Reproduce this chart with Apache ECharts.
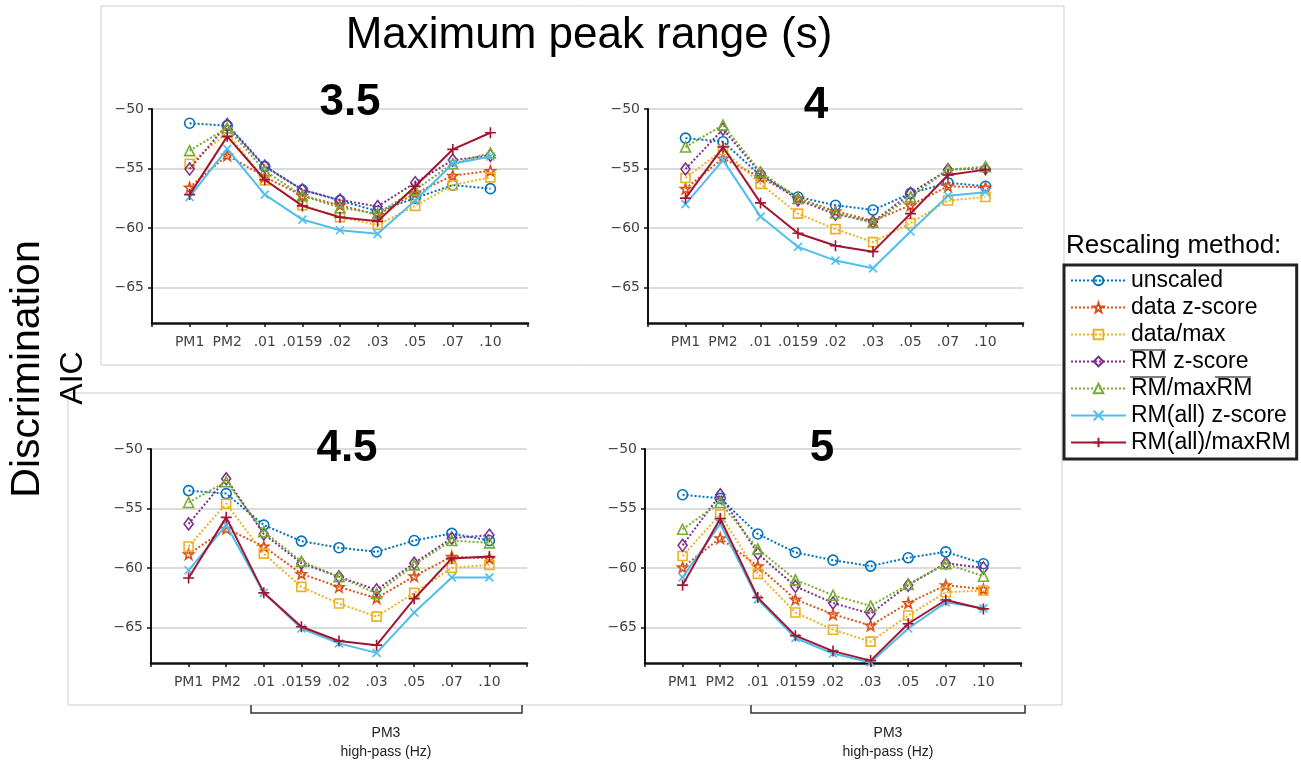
<!DOCTYPE html>
<html>
<head>
<meta charset="utf-8">
<script src="https://cdn.jsdelivr.net/npm/echarts@6/dist/echarts.min.js"></script>
<style>
  html, body { margin: 0; padding: 0; background: #fff; }
  #chart { width: 1301px; height: 763px; }
</style>
</head>
<body>
<div id="chart"></div>
<script>
// High-pass settings along the x axis
const categories = ['PM1', 'PM2', '.01', '.0159', '.02', '.03', '.05', '.07', '.10'];
const yTickValues = [-65, -60, -55, -50];
const methods = ['unscaled', 'data z-score', 'data/max', 'RM z-score', 'RM/maxRM', 'RM(all) z-score', 'RM(all)/maxRM'];
const peakRanges = ['3.5', '4', '4.5', '5'];

// Discrimination AIC, maximum peak range 3.5 s
const aic35Unscaled = [-51.2, -51.4, -54.85, -56.8, -57.7, -58.6, -57.5, -56.4, -56.7];
const aic35DataZ    = [-56.6, -53.9, -55.7, -57.3, -58.1, -58.9, -57.1, -55.6, -55.2];
const aic35DataMax  = [-54.6, -52.0, -56.0, -58.1, -59.1, -59.75, -58.15, -56.4, -55.75];
const aic35RmZ      = [-55.05, -51.3, -54.8, -56.8, -57.65, -58.2, -56.2, -54.3, -53.9];
const aic35RmMax    = [-53.5, -51.6, -55.2, -57.3, -58.3, -58.8, -56.8, -54.6, -53.7];
const aic35AllZ     = [-57.4, -53.35, -57.2, -59.3, -60.2, -60.5, -57.7, -54.6, -54.0];
const aic35AllMax   = [-57.2, -52.3, -55.95, -58.15, -59.1, -59.45, -56.5, -53.4, -52.0];

// Maximum peak range 4 s
const aic4Unscaled = [-52.45, -52.75, -55.6, -57.4, -58.1, -58.5, -57.1, -56.2, -56.5];
const aic4DataZ    = [-56.7, -54.15, -55.75, -57.5, -58.6, -59.4, -58.1, -56.5, -56.6];
const aic4DataMax  = [-55.8, -53.45, -56.3, -58.8, -60.1, -61.2, -59.6, -57.7, -57.4];
const aic4RmZ      = [-55.05, -51.7, -55.4, -57.65, -58.85, -59.5, -57.1, -55.1, -55.0];
const aic4RmMax    = [-53.2, -51.35, -55.3, -57.5, -58.75, -59.55, -57.4, -55.1, -54.85];
const aic4AllZ     = [-58.0, -54.3, -59.05, -61.6, -62.75, -63.4, -60.3, -57.3, -57.0];
const aic4AllMax   = [-57.5, -53.2, -57.9, -60.45, -61.5, -62.0, -58.8, -55.55, -55.1];

// Maximum peak range 4.5 s
const aic45Unscaled = [-53.5, -53.75, -56.4, -57.75, -58.3, -58.65, -57.7, -57.1, -57.7];
const aic45DataZ    = [-58.85, -56.7, -58.2, -60.5, -61.6, -62.55, -60.7, -59.05, -59.2];
const aic45DataMax  = [-58.2, -54.6, -58.8, -61.6, -63.0, -64.1, -62.1, -60.0, -59.75];
const aic45RmZ      = [-56.3, -52.5, -57.15, -59.6, -60.75, -61.85, -59.6, -57.5, -57.25];
const aic45RmMax    = [-54.5, -52.75, -56.95, -59.45, -60.75, -62.15, -59.75, -57.7, -57.9];
const aic45AllZ     = [-60.2, -56.4, -62.1, -65.1, -66.35, -67.15, -63.75, -60.8, -60.8];
const aic45AllMax   = [-60.85, -55.75, -62.1, -64.95, -66.15, -66.5, -62.6, -59.2, -59.05];

// Maximum peak range 5 s
const aic5Unscaled = [-53.85, -54.15, -57.15, -58.7, -59.35, -59.85, -59.15, -58.65, -59.65];
const aic5DataZ    = [-59.95, -57.5, -59.85, -62.65, -63.9, -64.85, -62.95, -61.45, -61.8];
const aic5DataMax  = [-59.0, -55.5, -60.5, -63.75, -65.2, -66.2, -64.0, -62.05, -61.9];
const aic5RmZ      = [-58.1, -53.85, -58.8, -61.55, -62.95, -63.85, -61.45, -59.6, -60.0];
const aic5RmMax    = [-56.75, -54.5, -58.4, -61.0, -62.3, -63.2, -61.4, -59.65, -60.7];
const aic5AllZ     = [-60.8, -56.3, -62.65, -65.9, -67.2, -67.95, -65.1, -62.9, -63.4];
const aic5AllMax   = [-61.45, -55.85, -62.5, -65.7, -67.0, -67.8, -64.7, -62.7, -63.45];

const panelData = [
  [aic35Unscaled, aic35DataZ, aic35DataMax, aic35RmZ, aic35RmMax, aic35AllZ, aic35AllMax],
  [aic4Unscaled, aic4DataZ, aic4DataMax, aic4RmZ, aic4RmMax, aic4AllZ, aic4AllMax],
  [aic45Unscaled, aic45DataZ, aic45DataMax, aic45RmZ, aic45RmMax, aic45AllZ, aic45AllMax],
  [aic5Unscaled, aic5DataZ, aic5DataMax, aic5RmZ, aic5RmMax, aic5AllZ, aic5AllMax]
];

// Per-method styling
const methodColors = ['#0072BD', '#D95319', '#EDB120', '#7E2F8E', '#77AC30', '#4DBEEE', '#A2142F'];
const STAR = 'path://M0,-10L2.35,-3.24L9.51,-3.09L3.8,1.24L5.88,8.09L0,4L-5.88,8.09L-3.8,1.24L-9.51,-3.09L-2.35,-3.24Z';
const CROSS = 'path://M-5,-5L5,5M5,-5L-5,5';
const PLUS = 'path://M0,-5L0,5M-5,0L5,0';
const methodSymbols = ['circle', STAR, 'rect', 'diamond', 'triangle', CROSS, PLUS];
const methodSymbolSizes = [10, 10, 9, [9, 12], 10, 8, 11];
const methodDotted = [true, true, true, true, true, false, false];

// Panel placement
const grids = [
  { left: 152, top: 109, width: 376, height: 214 },
  { left: 648, top: 109, width: 375, height: 214 },
  { left: 151, top: 449, width: 376, height: 214 },
  { left: 645, top: 449, width: 376, height: 214 }
];
const panelTitlePos = [[350, 103], [816, 106], [347, 449], [822, 449]];

const FONT = '"Liberation Sans", Arial, sans-serif';
const AXIS_FONT = '"DejaVu Sans", sans-serif';
const paddedCats = [''].concat(categories, ['']);

const xAxes = grids.map((g, i) => ({
  gridIndex: i,
  type: 'category',
  boundaryGap: false,
  data: paddedCats,
  axisLine: { show: true, lineStyle: { color: '#111', width: 2.5 } },
  axisTick: { show: true, interval: 0, length: 4, lineStyle: { color: '#111', width: 1.5 } },
  axisLabel: { interval: 0, margin: 12, color: '#444', fontFamily: AXIS_FONT, fontSize: 14 },
  splitLine: { show: false }
}));

const yAxes = grids.map((g, i) => ({
  gridIndex: i,
  type: 'value',
  min: -68,
  max: -50,
  axisLine: { show: true, lineStyle: { color: '#111', width: 2 } },
  axisTick: { show: true, length: 4, customValues: yTickValues, lineStyle: { color: '#111', width: 1.5 } },
  axisLabel: {
    customValues: yTickValues,
    margin: 8,
    color: '#444',
    fontFamily: AXIS_FONT,
    fontSize: 14,
    formatter: v => String(v).replace('-', '\u2212')
  },
  splitLine: { show: true, lineStyle: { color: '#dcdcdc', width: 2 } }
}));

const series = [];
panelData.forEach((rows, p) => {
  rows.forEach((vals, m) => {
    const c = methodColors[m];
    series.push({
      type: 'line',
      name: methods[m],
      xAxisIndex: p,
      yAxisIndex: p,
      data: [null].concat(vals, [null]),
      color: c,
      symbol: methodSymbols[m],
      symbolSize: methodSymbolSizes[m],
      showSymbol: true,
      showAllSymbol: true,
      lineStyle: { color: c, width: 2, type: methodDotted[m] ? [2, 2] : 'solid' },
      itemStyle: { color: 'rgba(255,255,255,0)', borderColor: c, borderWidth: 1.6 },
      z: 3 + m,
      animation: false
    });
  });
});

const graphics = [
  // panel frames
  { type: 'rect', shape: { x: 101, y: 6, width: 963, height: 359 }, style: { fill: 'none', stroke: '#cdcdcd', lineWidth: 1 }, z: 0 },
  { type: 'rect', shape: { x: 68, y: 393, width: 994, height: 312 }, style: { fill: 'none', stroke: '#cdcdcd', lineWidth: 1 }, z: 0 },
  // main title
  { type: 'text', style: { text: 'Maximum peak range (s)', x: 589, y: 36, align: 'center', verticalAlign: 'middle', font: '44px ' + FONT, fill: '#000' }, z: 20 },
  // y axis titles
  { type: 'text', x: 28, y: 369, rotation: Math.PI / 2, style: { text: 'Discrimination', x: 0, y: 0, align: 'center', verticalAlign: 'middle', font: '41px ' + FONT, fill: '#000' }, z: 20 },
  { type: 'text', x: 73, y: 378, rotation: Math.PI / 2, style: { text: 'AIC', x: 0, y: 0, align: 'center', verticalAlign: 'middle', font: '32px ' + FONT, fill: '#000' }, z: 20 },
  // legend heading
  { type: 'text', style: { text: 'Rescaling method:', x: 1066, y: 246, align: 'left', verticalAlign: 'middle', font: '26px ' + FONT, fill: '#000' }, z: 20 },
  // overlines on RM in the legend
  { type: 'line', shape: { x1: 1130, y1: 350, x2: 1166, y2: 350 }, style: { stroke: '#555', lineWidth: 1.5 }, z: 20 },
  { type: 'line', shape: { x1: 1130, y1: 377, x2: 1166, y2: 377 }, style: { stroke: '#555', lineWidth: 1.5 }, z: 20 },
  { type: 'line', shape: { x1: 1215, y1: 377, x2: 1251, y2: 377 }, style: { stroke: '#555', lineWidth: 1.5 }, z: 20 }
];

// panel titles
peakRanges.forEach((t, i) => {
  graphics.push({ type: 'text', style: { text: t, x: panelTitlePos[i][0], y: panelTitlePos[i][1], align: 'center', verticalAlign: 'middle', font: 'bold 44px ' + FONT, fill: '#000' }, z: 20 });
});

// PM3 high-pass brackets
[[251, 522, 386], [751, 1025, 888]].forEach(b => {
  graphics.push({ type: 'polyline', shape: { points: [[b[0], 705], [b[0], 713], [b[1], 713], [b[1], 705]] }, style: { fill: 'none', stroke: '#333', lineWidth: 1.5 }, z: 20 });
  graphics.push({ type: 'text', style: { text: 'PM3', x: b[2], y: 733, align: 'center', verticalAlign: 'middle', font: '14px ' + FONT, fill: '#222' }, z: 20 });
  graphics.push({ type: 'text', style: { text: 'high-pass (Hz)', x: b[2], y: 752, align: 'center', verticalAlign: 'middle', font: '14px ' + FONT, fill: '#222' }, z: 20 });
});

const chart = echarts.init(document.getElementById('chart'), null, { renderer: 'canvas' });
chart.setOption({
  backgroundColor: '#fff',
  animation: false,
  grid: grids,
  xAxis: xAxes,
  yAxis: yAxes,
  legend: {
    orient: 'vertical',
    left: 1064,
    top: 265,
    data: methods,
    selectedMode: false,
    itemWidth: 55,
    itemHeight: 12,
    itemGap: 4,
    padding: [4, 6, 5, 6],
    borderColor: '#222',
    borderWidth: 3,
    textStyle: { fontFamily: FONT, fontSize: 23, color: '#000' }
  },
  graphic: graphics,
  series: series
});
</script>
</body>
</html>
